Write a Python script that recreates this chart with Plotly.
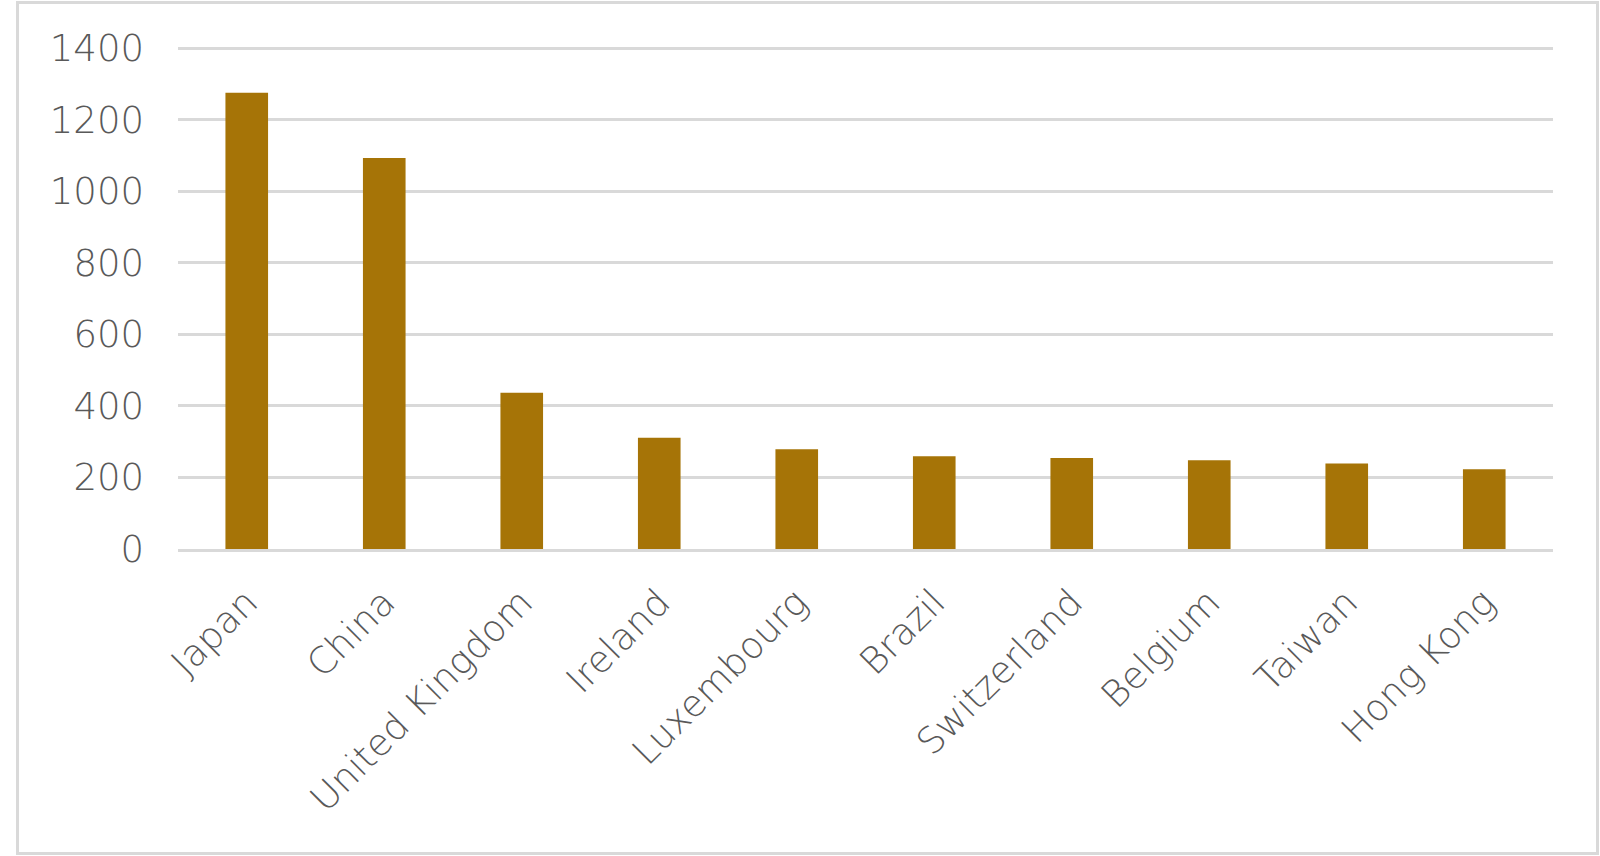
import plotly.graph_objects as go

countries = ["Japan", "China", "United Kingdom", "Ireland", "Luxembourg",
             "Brazil", "Switzerland", "Belgium", "Taiwan", "Hong Kong"]
values = [1275, 1093, 437, 311, 279, 259, 254, 248, 239, 223]
y_ticks = [0, 200, 400, 600, 800, 1000, 1200, 1400]

W, H = 1600, 856
L, R, T, B = 178, 47, 47, 307
pw, ph = W - L - R, H - T - B

fig = go.Figure(go.Bar(
    x=countries, y=values,
    marker=dict(color="#A67407", line=dict(width=0)),
    width=0.31,
))

def px_to_paper_x(px):
    return (px - L) / pw

def px_to_paper_y(py):
    return (H - B - py) / ph

FONT = "DejaVu Sans, Inter, sans-serif"

fig.update_layout(
    width=W, height=H,
    margin=dict(l=L, r=R, t=T, b=B, autoexpand=False),
    paper_bgcolor="white", plot_bgcolor="white",
    font=dict(family=FONT, size=37, color="#595959"),
    showlegend=False,
    shapes=[dict(type="rect", xref="paper", yref="paper",
                 x0=px_to_paper_x(17.5), x1=px_to_paper_x(1597.5),
                 y0=px_to_paper_y(853.5), y1=px_to_paper_y(2.5),
                 line=dict(color="#d9d9d9", width=3), fillcolor="rgba(0,0,0,0)",
                 layer="below")],
)
fig.update_xaxes(
    tickangle=-45, showgrid=False, showline=True, linecolor="#d9d9d9", linewidth=2.5,
    ticks="", ticklabelstandoff=14,
    tickfont=dict(family=FONT, size=37, color="#595959", weight=300),
)
fig.update_yaxes(
    range=[0, 1403], tickvals=y_ticks, ticktext=[str(v) for v in y_ticks],
    showgrid=True, gridcolor="#d9d9d9", gridwidth=2.5, zeroline=False,
    showline=False, ticks="", ticklabelstandoff=33,
    tickfont=dict(family=FONT, size=37, color="#595959", weight=300),
)

fig.write_html(
    "out.html",
    config={"displayModeBar": False},
    post_script="document.body.style.margin='0';document.body.style.overflow='hidden';",
)
